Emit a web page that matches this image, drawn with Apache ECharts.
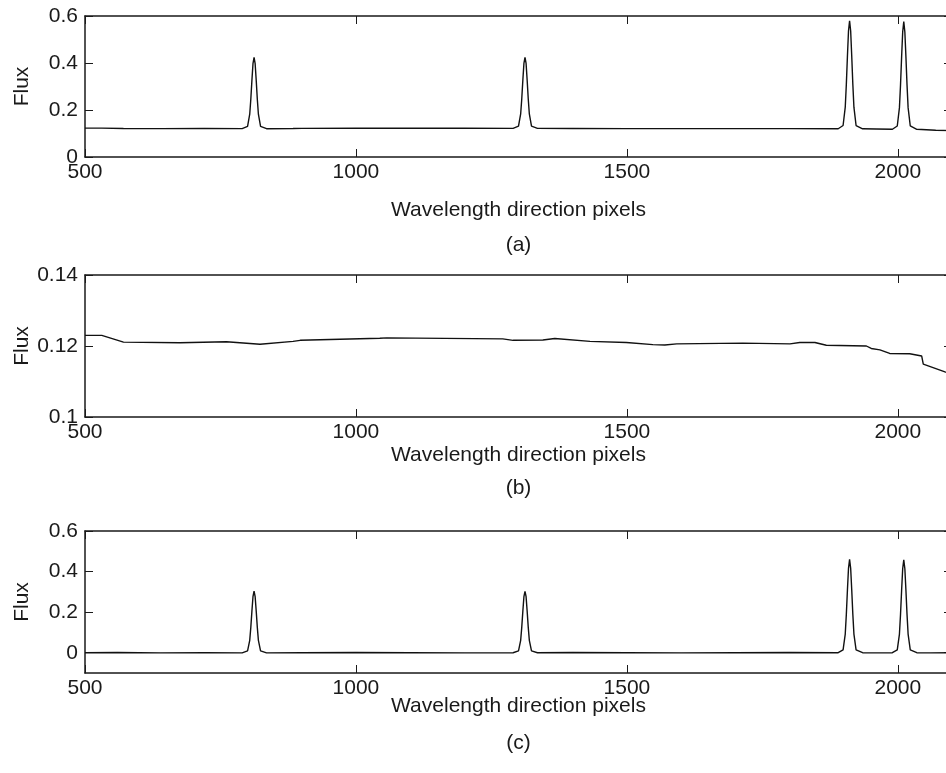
<!DOCTYPE html>
<html>
<head>
<meta charset="utf-8">
<script src="https://cdn.jsdelivr.net/npm/echarts@6/dist/echarts.min.js"></script>
<style>
html,body{margin:0;padding:0;overflow:hidden;background:#fff;}
#chart{width:960px;height:773px;}
</style>
</head>
<body>
<div id="chart"></div>
<script>
// ---- Data ----
const xTicks = [500, 1000, 1500, 2000];
const yTicksA = [0, 0.2, 0.4, 0.6];
const yTicksB = [0.1, 0.12, 0.14];
const yTicksC = [0, 0.2, 0.4, 0.6];
const panelLabels = ['(a)', '(b)', '(c)'];
const xName = 'Wavelength direction pixels';
const yName = 'Flux';

// (a) observed spectrum: continuum + emission lines
const xA = [500, 531, 571, 640, 720, 790,
  800, 804, 806, 808, 810, 812, 814, 816, 818, 820, 824,
  835, 884, 900, 1000, 1100, 1200, 1290,
  1300, 1304, 1306, 1308, 1310, 1312, 1314, 1316, 1318, 1320, 1324,
  1335, 1400, 1500, 1600, 1700, 1800, 1890,
  1899, 1903, 1905, 1907, 1909, 1911, 1913, 1915, 1917, 1919, 1923,
  1935, 1960, 1990,
  1999, 2003, 2005, 2007, 2009, 2011, 2013, 2015, 2017, 2019, 2023,
  2035, 2044, 2047, 2070, 2100];
const yA = [0.1230, 0.1230, 0.1211, 0.1209, 0.1210, 0.1208,
  0.130, 0.182, 0.246, 0.325, 0.397, 0.424, 0.397, 0.325, 0.246, 0.182, 0.130,
  0.1205, 0.1213, 0.1220, 0.1221, 0.1223, 0.1222, 0.1217,
  0.131, 0.183, 0.247, 0.326, 0.398, 0.424, 0.398, 0.326, 0.247, 0.183, 0.131,
  0.1218, 0.1214, 0.1209, 0.1206, 0.1207, 0.1206, 0.1201,
  0.134, 0.212, 0.309, 0.428, 0.536, 0.580, 0.536, 0.428, 0.309, 0.212, 0.134,
  0.1200, 0.1190, 0.1179,
  0.132, 0.210, 0.307, 0.425, 0.532, 0.576, 0.532, 0.425, 0.307, 0.210, 0.132,
  0.1176, 0.1172, 0.1149, 0.1136, 0.1121];

// (b) fitted continuum
const xB = [500, 531, 571, 675, 761, 823, 884, 897, 900, 1044, 1057, 1271, 1290, 1345, 1367,
  1432, 1499, 1548, 1570, 1592, 1714, 1801, 1819, 1847, 1868, 1942, 1951, 1967, 1985,
  2022, 2044, 2047, 2087, 2100];
const yB = [0.1230, 0.1230, 0.1211, 0.1209, 0.1212, 0.1205, 0.1213, 0.1216, 0.1220, 0.1222, 0.1223, 0.1220, 0.1216, 0.1217, 0.1221,
  0.1213, 0.1210, 0.1204, 0.1203, 0.1206, 0.1208, 0.1206, 0.1210, 0.1210, 0.1202, 0.1200, 0.1193, 0.1189, 0.1179,
  0.1178, 0.1172, 0.1149, 0.1127, 0.1121];

// (c) continuum-subtracted spectrum
const xC = [500, 560, 640, 720, 790,
  800, 804, 806, 808, 810, 812, 814, 816, 818, 820, 824,
  835, 900, 1000, 1100, 1200, 1290,
  1300, 1304, 1306, 1308, 1310, 1312, 1314, 1316, 1318, 1320, 1324,
  1335, 1400, 1500, 1600, 1700, 1800, 1890,
  1899, 1903, 1905, 1907, 1909, 1911, 1913, 1915, 1917, 1919, 1923,
  1935, 1960, 1990,
  1999, 2003, 2005, 2007, 2009, 2011, 2013, 2015, 2017, 2019, 2023,
  2035, 2060, 2100];
const yC = [0.000, 0.001, -0.001, 0.000, -0.001,
  0.009, 0.061, 0.125, 0.204, 0.276, 0.303, 0.276, 0.204, 0.125, 0.061, 0.009,
  -0.001, 0.000, 0.001, 0.000, -0.001, 0.000,
  0.009, 0.061, 0.125, 0.204, 0.276, 0.302, 0.276, 0.204, 0.125, 0.061, 0.009,
  0.000, 0.001, 0.000, -0.001, 0.000, 0.001, 0.000,
  0.014, 0.092, 0.189, 0.308, 0.416, 0.460, 0.416, 0.308, 0.189, 0.092, 0.014,
  0.000, -0.001, 0.000,
  0.014, 0.092, 0.189, 0.307, 0.414, 0.458, 0.414, 0.307, 0.189, 0.092, 0.014,
  0.000, -0.001, 0.000];

// ---- Chart construction ----
const FONT = "'Liberation Sans', Arial, Helvetica, sans-serif";
const TXT = '#1a1a1a';
const AX = '#1a1a1a';
const zip = (xs, ys) => xs.map((x, i) => [x, ys[i]]);

const grids = [
  { left: 85, top: 16, width: 867, height: 141 },
  { left: 85, top: 275, width: 867, height: 142 },
  { left: 85, top: 531, width: 867, height: 142 }
];
const yRanges = [
  { min: 0, max: 0.6, ticks: yTicksA },
  { min: 0.1, max: 0.14, ticks: yTicksB },
  { min: -0.1, max: 0.6, ticks: yTicksC }
];

const axisLine = { show: true, onZero: false, lineStyle: { color: AX, width: 1.5 } };
const xAxes = [], yAxes = [];
grids.forEach((g, i) => {
  ['bottom', 'top'].forEach(pos => {
    xAxes.push({
      type: 'value', gridIndex: i, position: pos, min: 500, max: 2100,
      axisLine: axisLine,
      axisTick: { show: true, inside: true, length: 8, customValues: xTicks, lineStyle: { color: AX, width: 1 } },
      axisLabel: { show: pos === 'bottom', customValues: xTicks, margin: 5,
        color: TXT, fontSize: 21, fontFamily: FONT,
        formatter: v => String(Math.round(v)) },
      splitLine: { show: false }
    });
  });
  ['left', 'right'].forEach(pos => {
    const r = yRanges[i];
    yAxes.push({
      type: 'value', gridIndex: i, position: pos, min: r.min, max: r.max,
      axisLine: axisLine,
      axisTick: { show: true, inside: true, length: 8, customValues: r.ticks, lineStyle: { color: AX, width: 1 } },
      axisLabel: { show: pos === 'left', customValues: r.ticks, margin: 7,
        color: TXT, fontSize: 21, fontFamily: FONT,
        formatter: v => String(+v.toFixed(3)) },
      splitLine: { show: false }
    });
  });
});

const lineSeries = (xs, ys, idx) => ({
  type: 'line', xAxisIndex: idx * 2, yAxisIndex: idx * 2,
  data: zip(xs, ys), showSymbol: false, symbol: 'none',
  lineStyle: { color: '#111', width: 1.4 }, clip: true, animation: false
});

const nameY = [210, 455, 706];
const parenY = [245, 488, 743];
const graphics = [];
grids.forEach((g, i) => {
  const cx = g.left + g.width / 2;
  graphics.push({ type: 'text', x: cx, y: nameY[i],
    style: { text: xName, align: 'center', verticalAlign: 'middle', fill: TXT, font: '21px ' + FONT } });
  graphics.push({ type: 'text', x: cx, y: parenY[i],
    style: { text: panelLabels[i], align: 'center', verticalAlign: 'middle', fill: TXT, font: '21px ' + FONT } });
  graphics.push({ type: 'text', x: 22, y: g.top + g.height / 2, rotation: Math.PI / 2,
    style: { text: yName, align: 'center', verticalAlign: 'middle', fill: TXT, font: '21px ' + FONT } });
});

const chart = echarts.init(document.getElementById('chart'), null, { renderer: 'canvas' });
chart.setOption({
  animation: false,
  backgroundColor: '#fff',
  grid: grids,
  xAxis: xAxes,
  yAxis: yAxes,
  series: [lineSeries(xA, yA, 0), lineSeries(xB, yB, 1), lineSeries(xC, yC, 2)],
  graphic: graphics
});
</script>
</body>
</html>
